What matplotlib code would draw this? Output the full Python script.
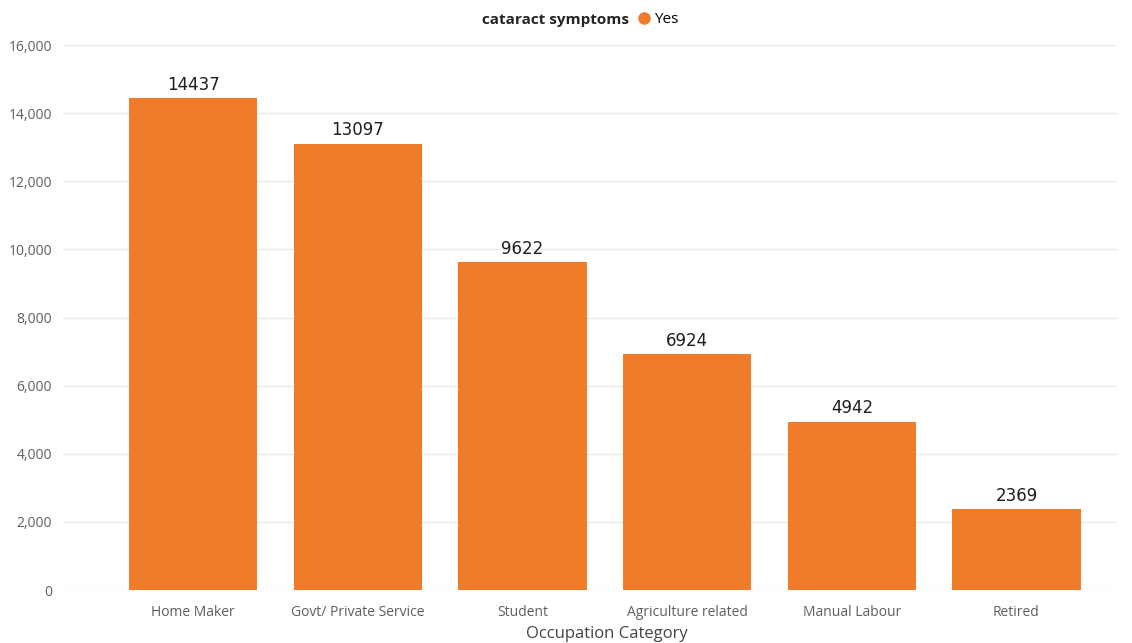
import matplotlib
matplotlib.use('agg')
import matplotlib.pyplot as plt
from matplotlib.lines import Line2D

categories = ['Home Maker', 'Govt/ Private Service', 'Student',
              'Agriculture related', 'Manual Labour', 'Retired']
counts = [14437, 13097, 9622, 6924, 4942, 2369]
yTicks = [0, 2000, 4000, 6000, 8000, 10000, 12000, 14000, 16000]

barColor = '#F07B28'
textColor = '#605E5C'
gridColor = '#EAEAEA'

fig = plt.figure(figsize=(11.32, 6.43), dpi=100)
ax = fig.add_axes([0.0557, 0.0824, 0.931, 0.8476])

xs = list(range(len(categories)))
bars = ax.bar(xs, counts, width=0.78, color=barColor, zorder=3)
for x, v in zip(xs, counts):
    ax.text(x, v + 130, str(v), ha='center', va='bottom',
            fontsize=12, family='DejaVu Sans', color='#1E1E1E', zorder=4)

ax.set_xlim(-0.79, 5.61)
ax.set_ylim(0, 16000)
ax.set_yticks(yTicks)
ax.set_yticklabels(['{:,}'.format(t) for t in yTicks])
ax.set_xticks(xs)
ax.set_xticklabels(categories)
ax.tick_params(axis='both', length=0, labelsize=10, labelcolor=textColor,
               labelfontfamily='Open Sans')
ax.tick_params(axis='y', pad=8)
ax.tick_params(axis='x', pad=11)
ax.grid(axis='y', color=gridColor, linewidth=1, zorder=0)
for side in ['top', 'right', 'left', 'bottom']:
    ax.spines[side].set_visible(False)

# axis title sits over the span of the bars rather than the whole axes
ax.set_xlabel('Occupation Category', fontsize=12, color='#444444',
              family='Open Sans', labelpad=3)
ax.xaxis.set_label_coords(0.516, -0.066)

# legend across the top: bold title followed by a dot marker and "Yes"
fig.text(0.5555, 0.969, 'cataract symptoms', ha='right', va='center',
         fontsize=11, fontweight='bold', color='#252423', family='Open Sans')
handle = Line2D([], [], marker='o', linestyle='', color=barColor, markersize=8)
fig.legend([handle], ['Yes'], loc='center left', bbox_to_anchor=(0.5545, 0.969),
           frameon=False, handletextpad=0.0, borderpad=0, handlelength=1.2,
           prop={'family': 'Open Sans', 'size': 11})

plt.savefig('out.png', dpi=100)
